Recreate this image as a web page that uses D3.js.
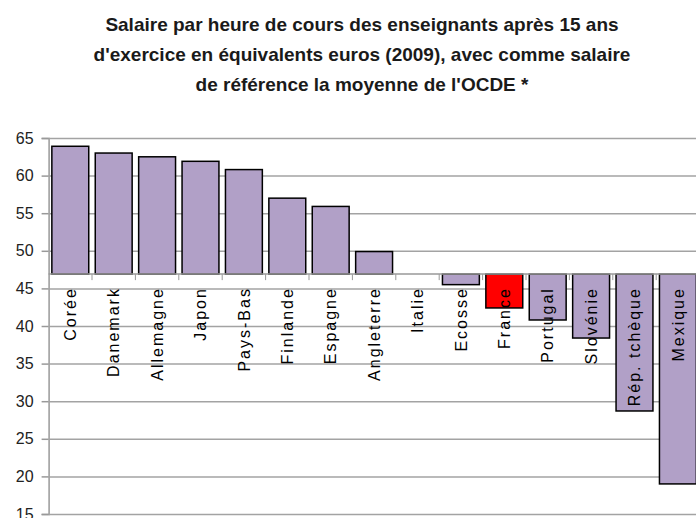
<!DOCTYPE html>
<html>
<head>
<meta charset="utf-8">
<script src="https://cdn.jsdelivr.net/npm/d3@7"></script>
<style>
  body { margin: 0; background: #fff; }
  .title { font-family: "Liberation Sans Narrow", "Liberation Sans", sans-serif; font-size: 19px; font-weight: bold; fill: #1a1a1a; }
  .ytick { font-family: "Liberation Sans", Arial, sans-serif; font-size: 16px; fill: #222; }
  .cat { font-family: "Liberation Sans", Arial, sans-serif; font-size: 16px; letter-spacing: 2px; fill: #000; }
</style>
</head>
<body>
<div class="chart"></div>
<script>
const titleLines = [
  "Salaire par heure de cours des enseignants après 15 ans",
  "d'exercice en équivalents euros (2009), avec comme salaire",
  "de référence la moyenne de l'OCDE *"
];
const countries = ["Corée", "Danemark", "Allemagne", "Japon", "Pays-Bas", "Finlande", "Espagne",
  "Angleterre", "Italie", "Ecosse", "France", "Portugal", "Slovénie", "Rép. tchèque", "Mexique"];
const salaries = [63.9, 63.0, 62.5, 61.9, 60.8, 57.0, 55.9, 49.9, 46.9, 45.5, 42.4, 40.8, 38.4, 28.7, 19.0];
const oecdAverage = 46.9;
const yTicks = [15, 20, 25, 30, 35, 40, 45, 50, 55, 60, 65];
const highlight = "France";

const width = 696, height = 518;
const plot = { left: 48.6, right: 699.6, top: 138, bottom: 514 };

const svg = d3.select(".chart").append("svg")
  .attr("width", width)
  .attr("height", height);

// titre
svg.append("g").selectAll("text")
  .data(titleLines)
  .join("text")
  .attr("class", "title")
  .attr("x", 362)
  .attr("y", (d, i) => 31 + i * 30)
  .attr("text-anchor", "middle")
  .text(d => d);

const x = d3.scaleBand()
  .domain(countries)
  .range([plot.left, plot.right])
  .paddingInner(0.15)
  .paddingOuter(0.075);

const y = d3.scaleLinear()
  .domain([15, 65])
  .range([plot.bottom, plot.top]);

// grille + axe des ordonnées
const yAxis = svg.append("g")
  .attr("transform", `translate(${plot.left},0)`)
  .call(d3.axisLeft(y).tickValues(yTicks).tickSize(7).tickPadding(8));
yAxis.select(".domain").attr("stroke", "#999").attr("stroke-width", 1.5);
yAxis.selectAll(".tick line").attr("stroke", "#999").attr("stroke-width", 1.5);
yAxis.selectAll(".tick text").attr("class", "ytick").attr("font-size", null).attr("font-family", null).attr("fill", null);
yAxis.selectAll(".tick").append("line")
  .attr("x1", 0).attr("x2", width)
  .attr("stroke", "#a3a3a3").attr("stroke-width", 1.5);

// barres depuis la moyenne OCDE
svg.append("g").selectAll("rect")
  .data(countries)
  .join("rect")
  .attr("x", d => x(d))
  .attr("width", x.bandwidth())
  .attr("y", (d, i) => y(Math.max(salaries[i], oecdAverage)))
  .attr("height", (d, i) => Math.abs(y(salaries[i]) - y(oecdAverage)))
  .attr("fill", d => d === highlight ? "#ff0000" : "#b1a0c7")
  .attr("stroke", "#000")
  .attr("stroke-width", 1.5);

// axe des catégories à la moyenne
const base = y(oecdAverage);
svg.append("line")
  .attr("x1", plot.left).attr("x2", width)
  .attr("y1", base).attr("y2", base)
  .attr("stroke", "#999").attr("stroke-width", 1.5);
svg.append("g").selectAll("line")
  .data(countries.slice(1))
  .join("line")
  .attr("x1", d => x(d) - x.step() * 0.075)
  .attr("x2", d => x(d) - x.step() * 0.075)
  .attr("y1", base).attr("y2", base + 6)
  .attr("stroke", "#999").attr("stroke-width", 1);

// étiquettes verticales
svg.append("g").selectAll("text")
  .data(countries)
  .join("text")
  .attr("class", "cat")
  .attr("text-anchor", "end")
  .attr("dy", "0.35em")
  .attr("transform", d => `translate(${x(d) + x.bandwidth() / 2},${base + 13}) rotate(-90)`)
  .text(d => d);
</script>
</body>
</html>
